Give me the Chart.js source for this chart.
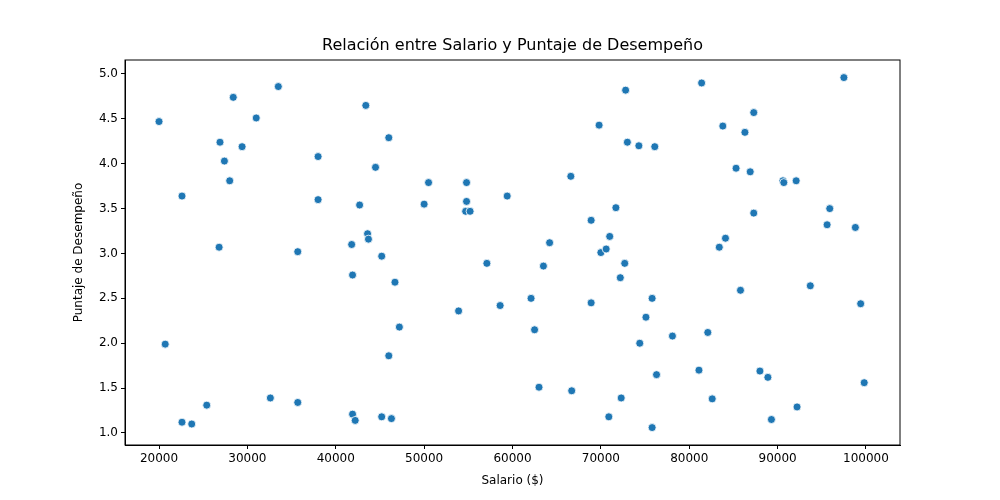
<!DOCTYPE html>
<html>
<head>
<meta charset="utf-8">
<script src="https://cdn.jsdelivr.net/npm/chart.js@4"></script>
<style>
  body { margin: 0; background: #fff; }
  #wrap { width: 1000px; height: 500px; }
</style>
</head>
<body>
<div id="wrap"><canvas id="scatter" width="1000" height="500"></canvas></div>
<script>
const salaries = [
  20000, 20700, 22600, 22600, 23700, 25400, 26800, 26900, 27400, 28000,
  28400, 29400, 31000, 32600, 33500, 35700, 35700, 38000, 38000, 41800,
  41900, 41900, 42200, 42700, 43400, 43600, 43700, 44500, 45200, 45200,
  46000, 46000, 46300, 46700, 47200, 50000, 50500, 53900, 54700, 54800,
  54800, 55200, 57100, 58600, 59400, 62100, 62500, 63000, 63500, 64200,
  66600, 66700, 68900, 68900, 69800, 70000, 70600, 70900, 71000, 71700,
  72200, 72300, 72700, 72800, 73000, 74300, 74400, 75100, 75800, 75800,
  76100, 76300, 78100, 81100, 81400, 82100, 82600, 83400, 83800, 84100,
  85300, 85800, 86300, 86900, 87300, 87300, 88000, 88900, 89300, 90600,
  90700, 92100, 92200, 93700, 95600, 95900, 97500, 98800, 99400, 99800
]
const scores = [
  4.47, 1.99, 3.64, 1.12, 1.10, 1.31, 3.07, 4.24, 4.03, 3.81,
  4.74, 4.19, 4.51, 1.39, 4.86, 3.02, 1.34, 4.08, 3.60, 3.10,
  2.76, 1.21, 1.14, 3.54, 4.65, 3.22, 3.16, 3.96, 2.97, 1.18,
  4.29, 1.86, 1.16, 2.68, 2.18, 3.55, 3.79, 2.36, 3.47, 3.58,
  3.79, 3.47, 2.89, 2.42, 3.64, 2.50, 2.15, 1.51, 2.86, 3.12,
  3.86, 1.47, 3.37, 2.45, 4.43, 3.01, 3.05, 1.18, 3.19, 3.51,
  2.73, 1.39, 2.89, 4.82, 4.24, 4.20, 2.00, 2.29, 2.50, 1.06,
  4.19, 1.65, 2.08, 1.70, 4.90, 2.12, 1.38, 3.07, 4.42, 3.17,
  3.95, 2.59, 4.35, 3.91, 3.45, 4.57, 1.69, 1.62, 1.15, 3.81,
  3.79, 3.81, 1.29, 2.64, 3.32, 3.50, 4.96, 3.29, 2.44, 1.56
]
const chartTitle = 'Relación entre Salario y Puntaje de Desempeño'

// frame around the plot + title centred over the plot area
const frame = {
  id: 'frame',
  afterDraw(chart) {
    const { ctx, chartArea: a } = chart
    ctx.save()
    ctx.strokeStyle = '#000'
    ctx.lineWidth = 1
    ctx.strokeRect(a.left, a.top, a.right - a.left, a.bottom - a.top)
    ctx.fillStyle = '#000'
    ctx.font = '16px "DejaVu Sans"'
    ctx.textAlign = 'center'
    ctx.textBaseline = 'middle'
    ctx.fillText(chartTitle, (a.left + a.right) / 2, 46)
    ctx.restore()
  }
}

const font = { family: 'DejaVu Sans', size: 12 }
const axisGrid = { drawOnChartArea: false, tickLength: 4, color: '#000' }

new Chart(document.getElementById('scatter'), {
  type: 'scatter',
  data: {
    datasets: [{
      data: salaries.map((s, i) => ({ x: s, y: scores[i] })),
      backgroundColor: '#1f77b4',
      borderColor: '#ffffff',
      borderWidth: 0.8,
      pointRadius: 4
    }]
  },
  options: {
    responsive: false,
    animation: false,
    layout: { padding: { left: 72, right: 100, top: 60, bottom: 12 } },
    plugins: {
      legend: { display: false },
      tooltip: { enabled: false },
      title: { display: false }
    },
    scales: {
      x: {
        min: 16150, max: 103850,
        afterFit(s) { s.height = 43 },
        afterBuildTicks(s) {
          s.ticks = [20000, 30000, 40000, 50000, 60000, 70000, 80000, 90000, 100000].map(v => ({ value: v }))
        },
        ticks: { color: '#000', font, callback: v => String(v), maxRotation: 0 },
        grid: axisGrid,
        border: { color: '#000' },
        title: { display: true, text: 'Salario ($)', color: '#000', font, padding: 0 }
      },
      y: {
        min: 0.866, max: 5.156,
        afterFit(s) { s.width = 53 },
        afterBuildTicks(s) {
          s.ticks = [1, 1.5, 2, 2.5, 3, 3.5, 4, 4.5, 5].map(v => ({ value: v }))
        },
        ticks: { color: '#000', font, callback: v => v.toFixed(1) },
        grid: axisGrid,
        border: { color: '#000' },
        title: { display: true, text: 'Puntaje de Desempeño', color: '#000', font, padding: 0 }
      }
    }
  },
  plugins: [frame]
})
</script>
</body>
</html>
